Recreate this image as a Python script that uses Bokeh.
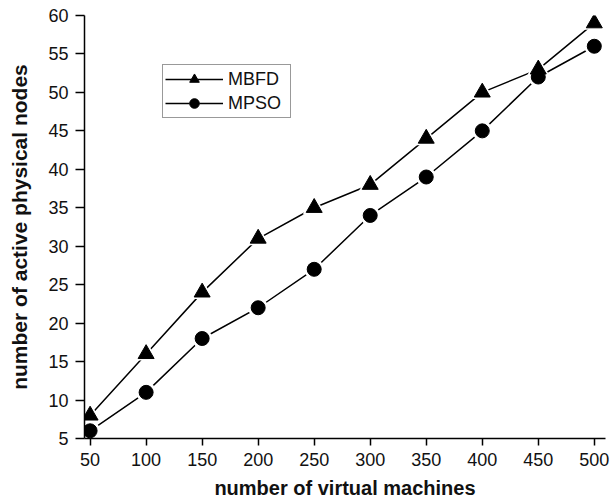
from bokeh.plotting import figure
from bokeh.models import Range1d, FixedTicker, Legend, LegendItem, ColumnDataSource
from bokeh.embed import file_html
from bokeh.resources import INLINE

vms = [50, 100, 150, 200, 250, 300, 350, 400, 450, 500]
mbfd = [8, 16, 24, 31, 35, 38, 44, 50, 53, 59]
mpso = [6, 11, 18, 22, 27, 34, 39, 45, 52, 56]
x_ticks = [50, 100, 150, 200, 250, 300, 350, 400, 450, 500]
y_ticks = [5, 10, 15, 20, 25, 30, 35, 40, 45, 50, 55, 60]

FONT = "Liberation Sans"

p = figure(width=611, height=501, output_backend="svg", toolbar_location=None,
           x_range=Range1d(45, 510), y_range=Range1d(5, 60),
           min_border_left=84, min_border_right=6, min_border_top=15, min_border_bottom=63)
p.grid.visible = False
p.outline_line_color = None
p.background_fill_color = "white"
p.border_fill_color = "white"

src1 = ColumnDataSource(dict(x=vms, y=mbfd))
src2 = ColumnDataSource(dict(x=vms, y=mpso))

l1 = p.line("x", "y", source=src1, line_color="black", line_width=1.5)
l2 = p.line("x", "y", source=src2, line_color="black", line_width=1.5)
h1 = p.scatter("x", "y", source=src1, marker="triangle", size=23, fill_color="white", line_color=None)
h2 = p.scatter("x", "y", source=src2, marker="circle", size=20, fill_color="white", line_color=None)
m1 = p.scatter("x", "y", source=src1, marker="triangle", size=16, fill_color="black", line_color="black")
m2 = p.scatter("x", "y", source=src2, marker="circle", size=14, fill_color="black", line_color="black")

for ax in (p.xaxis[0], p.yaxis[0]):
    ax.axis_line_color = "black"
    ax.axis_line_width = 1.5
    ax.major_tick_line_color = "black"
    ax.major_tick_line_width = 1.5
    ax.major_tick_in = 0
    ax.minor_tick_line_color = None
    ax.major_label_text_font = FONT
    ax.major_label_text_font_size = "18px"
    ax.major_label_text_color = "#111111"
    ax.major_label_standoff = 7
    ax.axis_label_text_font = FONT
    ax.axis_label_text_font_style = "bold"
    ax.axis_label_text_color = "#111111"

p.xaxis[0].ticker = FixedTicker(ticks=x_ticks)
p.yaxis[0].ticker = FixedTicker(ticks=y_ticks)
p.xaxis[0].major_tick_out = 7
p.yaxis[0].major_tick_out = 9
p.xaxis[0].axis_label = "number of virtual machines"
p.yaxis[0].axis_label = "number of active physical nodes"
p.xaxis[0].axis_label_text_font_size = "20px"
p.yaxis[0].axis_label_text_font_size = "21px"
p.xaxis[0].axis_label_standoff = 8
p.yaxis[0].axis_label_standoff = 14

legend = Legend(items=[LegendItem(label="MBFD", renderers=[l1, h1, m1]),
                       LegendItem(label="MPSO", renderers=[l2, h2, m2])],
                location=(78, 320))
legend.label_text_font = FONT
legend.label_text_font_size = "18px"
legend.label_text_color = "#111111"
legend.border_line_color = "#333333"
legend.border_line_width = 1
legend.background_fill_alpha = 1
legend.glyph_width = 58
legend.glyph_height = 24
legend.label_height = 24
legend.label_width = 60
legend.spacing = 0
legend.padding = 2
legend.margin = 0
legend.label_standoff = 5
p.add_layout(legend, "center")

open("out.html", "w").write(file_html(p, INLINE))
